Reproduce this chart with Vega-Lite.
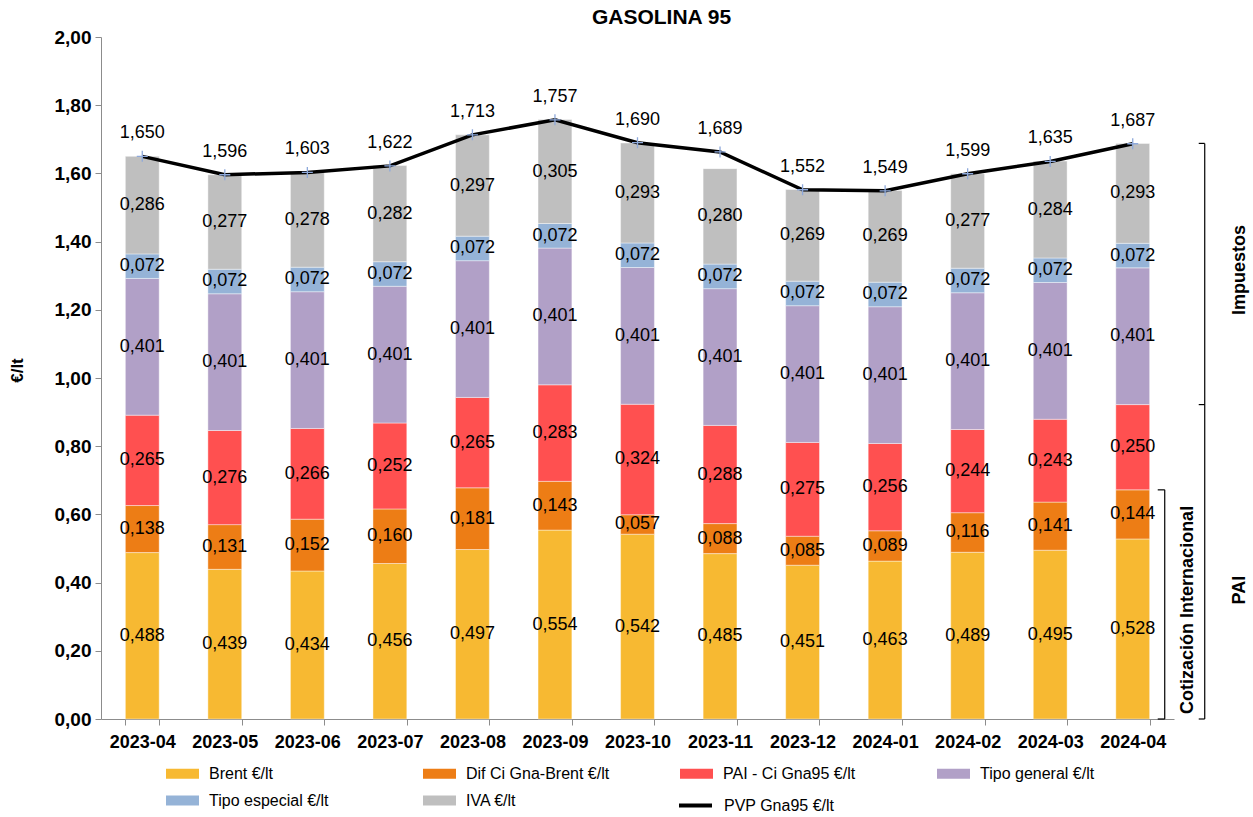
{
  "$schema": "https://vega.github.io/schema/vega-lite/v6.json",
  "autosize": {"type": "none"},
  "padding": {"left": 101, "top": 37, "right": 79, "bottom": 98},
  "width": 1073,
  "height": 682,
  "background": "white",
  "config": {
    "locale": {"number": {"decimal": ",", "thousands": ".", "grouping": [3], "currency": ["", " €"]}},
    "view": {"stroke": null},
    "font": "Liberation Sans",
    "text": {"font": "Liberation Sans", "fontSize": 18, "color": "black"}
  },
  "title": {"text": "GASOLINA 95", "font": "Liberation Sans", "fontSize": 21, "fontWeight": "bold", "color": "black", "anchor": "middle", "dx": 24, "offset": 0},
  "datasets": {
    "componentes": [
      {"mes": "2023-04", "serie": "Brent €/lt", "n": 1, "valor": 0.488},
      {"mes": "2023-05", "serie": "Brent €/lt", "n": 1, "valor": 0.439},
      {"mes": "2023-06", "serie": "Brent €/lt", "n": 1, "valor": 0.434},
      {"mes": "2023-07", "serie": "Brent €/lt", "n": 1, "valor": 0.456},
      {"mes": "2023-08", "serie": "Brent €/lt", "n": 1, "valor": 0.497},
      {"mes": "2023-09", "serie": "Brent €/lt", "n": 1, "valor": 0.554},
      {"mes": "2023-10", "serie": "Brent €/lt", "n": 1, "valor": 0.542},
      {"mes": "2023-11", "serie": "Brent €/lt", "n": 1, "valor": 0.485},
      {"mes": "2023-12", "serie": "Brent €/lt", "n": 1, "valor": 0.451},
      {"mes": "2024-01", "serie": "Brent €/lt", "n": 1, "valor": 0.463},
      {"mes": "2024-02", "serie": "Brent €/lt", "n": 1, "valor": 0.489},
      {"mes": "2024-03", "serie": "Brent €/lt", "n": 1, "valor": 0.495},
      {"mes": "2024-04", "serie": "Brent €/lt", "n": 1, "valor": 0.528},
      {"mes": "2023-04", "serie": "Dif Ci Gna-Brent €/lt", "n": 2, "valor": 0.138},
      {"mes": "2023-05", "serie": "Dif Ci Gna-Brent €/lt", "n": 2, "valor": 0.131},
      {"mes": "2023-06", "serie": "Dif Ci Gna-Brent €/lt", "n": 2, "valor": 0.152},
      {"mes": "2023-07", "serie": "Dif Ci Gna-Brent €/lt", "n": 2, "valor": 0.160},
      {"mes": "2023-08", "serie": "Dif Ci Gna-Brent €/lt", "n": 2, "valor": 0.181},
      {"mes": "2023-09", "serie": "Dif Ci Gna-Brent €/lt", "n": 2, "valor": 0.143},
      {"mes": "2023-10", "serie": "Dif Ci Gna-Brent €/lt", "n": 2, "valor": 0.057},
      {"mes": "2023-11", "serie": "Dif Ci Gna-Brent €/lt", "n": 2, "valor": 0.088},
      {"mes": "2023-12", "serie": "Dif Ci Gna-Brent €/lt", "n": 2, "valor": 0.085},
      {"mes": "2024-01", "serie": "Dif Ci Gna-Brent €/lt", "n": 2, "valor": 0.089},
      {"mes": "2024-02", "serie": "Dif Ci Gna-Brent €/lt", "n": 2, "valor": 0.116},
      {"mes": "2024-03", "serie": "Dif Ci Gna-Brent €/lt", "n": 2, "valor": 0.141},
      {"mes": "2024-04", "serie": "Dif Ci Gna-Brent €/lt", "n": 2, "valor": 0.144},
      {"mes": "2023-04", "serie": "PAI - Ci Gna95 €/lt", "n": 3, "valor": 0.265},
      {"mes": "2023-05", "serie": "PAI - Ci Gna95 €/lt", "n": 3, "valor": 0.276},
      {"mes": "2023-06", "serie": "PAI - Ci Gna95 €/lt", "n": 3, "valor": 0.266},
      {"mes": "2023-07", "serie": "PAI - Ci Gna95 €/lt", "n": 3, "valor": 0.252},
      {"mes": "2023-08", "serie": "PAI - Ci Gna95 €/lt", "n": 3, "valor": 0.265},
      {"mes": "2023-09", "serie": "PAI - Ci Gna95 €/lt", "n": 3, "valor": 0.283},
      {"mes": "2023-10", "serie": "PAI - Ci Gna95 €/lt", "n": 3, "valor": 0.324},
      {"mes": "2023-11", "serie": "PAI - Ci Gna95 €/lt", "n": 3, "valor": 0.288},
      {"mes": "2023-12", "serie": "PAI - Ci Gna95 €/lt", "n": 3, "valor": 0.275},
      {"mes": "2024-01", "serie": "PAI - Ci Gna95 €/lt", "n": 3, "valor": 0.256},
      {"mes": "2024-02", "serie": "PAI - Ci Gna95 €/lt", "n": 3, "valor": 0.244},
      {"mes": "2024-03", "serie": "PAI - Ci Gna95 €/lt", "n": 3, "valor": 0.243},
      {"mes": "2024-04", "serie": "PAI - Ci Gna95 €/lt", "n": 3, "valor": 0.250},
      {"mes": "2023-04", "serie": "Tipo general €/lt", "n": 4, "valor": 0.401},
      {"mes": "2023-05", "serie": "Tipo general €/lt", "n": 4, "valor": 0.401},
      {"mes": "2023-06", "serie": "Tipo general €/lt", "n": 4, "valor": 0.401},
      {"mes": "2023-07", "serie": "Tipo general €/lt", "n": 4, "valor": 0.401},
      {"mes": "2023-08", "serie": "Tipo general €/lt", "n": 4, "valor": 0.401},
      {"mes": "2023-09", "serie": "Tipo general €/lt", "n": 4, "valor": 0.401},
      {"mes": "2023-10", "serie": "Tipo general €/lt", "n": 4, "valor": 0.401},
      {"mes": "2023-11", "serie": "Tipo general €/lt", "n": 4, "valor": 0.401},
      {"mes": "2023-12", "serie": "Tipo general €/lt", "n": 4, "valor": 0.401},
      {"mes": "2024-01", "serie": "Tipo general €/lt", "n": 4, "valor": 0.401},
      {"mes": "2024-02", "serie": "Tipo general €/lt", "n": 4, "valor": 0.401},
      {"mes": "2024-03", "serie": "Tipo general €/lt", "n": 4, "valor": 0.401},
      {"mes": "2024-04", "serie": "Tipo general €/lt", "n": 4, "valor": 0.401},
      {"mes": "2023-04", "serie": "Tipo especial €/lt", "n": 5, "valor": 0.072},
      {"mes": "2023-05", "serie": "Tipo especial €/lt", "n": 5, "valor": 0.072},
      {"mes": "2023-06", "serie": "Tipo especial €/lt", "n": 5, "valor": 0.072},
      {"mes": "2023-07", "serie": "Tipo especial €/lt", "n": 5, "valor": 0.072},
      {"mes": "2023-08", "serie": "Tipo especial €/lt", "n": 5, "valor": 0.072},
      {"mes": "2023-09", "serie": "Tipo especial €/lt", "n": 5, "valor": 0.072},
      {"mes": "2023-10", "serie": "Tipo especial €/lt", "n": 5, "valor": 0.072},
      {"mes": "2023-11", "serie": "Tipo especial €/lt", "n": 5, "valor": 0.072},
      {"mes": "2023-12", "serie": "Tipo especial €/lt", "n": 5, "valor": 0.072},
      {"mes": "2024-01", "serie": "Tipo especial €/lt", "n": 5, "valor": 0.072},
      {"mes": "2024-02", "serie": "Tipo especial €/lt", "n": 5, "valor": 0.072},
      {"mes": "2024-03", "serie": "Tipo especial €/lt", "n": 5, "valor": 0.072},
      {"mes": "2024-04", "serie": "Tipo especial €/lt", "n": 5, "valor": 0.072},
      {"mes": "2023-04", "serie": "IVA €/lt", "n": 6, "valor": 0.286},
      {"mes": "2023-05", "serie": "IVA €/lt", "n": 6, "valor": 0.277},
      {"mes": "2023-06", "serie": "IVA €/lt", "n": 6, "valor": 0.278},
      {"mes": "2023-07", "serie": "IVA €/lt", "n": 6, "valor": 0.282},
      {"mes": "2023-08", "serie": "IVA €/lt", "n": 6, "valor": 0.297},
      {"mes": "2023-09", "serie": "IVA €/lt", "n": 6, "valor": 0.305},
      {"mes": "2023-10", "serie": "IVA €/lt", "n": 6, "valor": 0.293},
      {"mes": "2023-11", "serie": "IVA €/lt", "n": 6, "valor": 0.280},
      {"mes": "2023-12", "serie": "IVA €/lt", "n": 6, "valor": 0.269},
      {"mes": "2024-01", "serie": "IVA €/lt", "n": 6, "valor": 0.269},
      {"mes": "2024-02", "serie": "IVA €/lt", "n": 6, "valor": 0.277},
      {"mes": "2024-03", "serie": "IVA €/lt", "n": 6, "valor": 0.284},
      {"mes": "2024-04", "serie": "IVA €/lt", "n": 6, "valor": 0.293}
    ],
    "pvp": [
      {"mes": "2023-04", "pvp": 1.650, "etiqueta": 1.650},
      {"mes": "2023-05", "pvp": 1.596, "etiqueta": 1.596},
      {"mes": "2023-06", "pvp": 1.603, "etiqueta": 1.603},
      {"mes": "2023-07", "pvp": 1.622, "etiqueta": 1.622},
      {"mes": "2023-08", "pvp": 1.713, "etiqueta": 1.713},
      {"mes": "2023-09", "pvp": 1.757, "etiqueta": 1.757},
      {"mes": "2023-10", "pvp": 1.690, "etiqueta": 1.690},
      {"mes": "2023-11", "pvp": 1.663, "etiqueta": 1.689},
      {"mes": "2023-12", "pvp": 1.552, "etiqueta": 1.552},
      {"mes": "2024-01", "pvp": 1.549, "etiqueta": 1.549},
      {"mes": "2024-02", "pvp": 1.599, "etiqueta": 1.599},
      {"mes": "2024-03", "pvp": 1.635, "etiqueta": 1.635},
      {"mes": "2024-04", "pvp": 1.687, "etiqueta": 1.687}
    ]
  },
  "layer": [
    {
      "data": {"name": "componentes"},
      "mark": {"type": "bar", "stroke": "white", "strokeWidth": 0.6, "strokeOpacity": 0.7},
      "encoding": {
        "x": {
          "field": "mes", "type": "nominal", "sort": null,
          "scale": {"paddingInner": 0.59, "paddingOuter": 0.295},
          "axis": {"title": null, "labelAngle": 0, "labelFont": "Liberation Sans", "labelFontWeight": "bold", "labelFontSize": 18, "labelColor": "black", "tickBand": "extent", "tickSize": 6, "domainColor": "#8c8c8c", "tickColor": "#8c8c8c", "labelPadding": 8, "grid": false}
        },
        "y": {
          "field": "valor", "type": "quantitative", "stack": "zero",
          "scale": {"domain": [0, 2], "nice": false, "zero": true},
          "axis": {"values": [0, 0.2, 0.4, 0.6, 0.8, 1.0, 1.2, 1.4, 1.6, 1.8, 2.0], "format": ".2f", "grid": false, "domainColor": "#8c8c8c", "tickColor": "#8c8c8c", "tickSize": 6, "labelFont": "Liberation Sans", "labelFontWeight": "bold", "labelFontSize": 19, "labelColor": "black", "labelPadding": 4, "title": "€/lt", "titleFont": "Liberation Sans", "titleFontSize": 17, "titleFontWeight": "bold", "titleColor": "black", "titleX": -84, "titleY": 333, "titleBaseline": "middle", "titleAlign": "center", "titleAngle": 270}
        },
        "order": {"field": "n", "type": "quantitative", "sort": "ascending"},
        "color": {
          "field": "serie", "type": "nominal",
          "scale": {
            "domain": ["Brent €/lt", "Dif Ci Gna-Brent €/lt", "PAI - Ci Gna95 €/lt", "Tipo general €/lt", "Tipo especial €/lt", "IVA €/lt"],
            "range": ["#F7B932", "#ED7D15", "#FF5050", "#B1A0C7", "#95B3D7", "#BFBFBF"]
          },
          "legend": {
            "title": null, "orient": "none", "legendX": 65, "legendY": 720, "direction": "horizontal", "columns": 4, "gridAlign": "all",
            "columnPadding": 70, "rowPadding": 2, "padding": 0,
            "symbolType": "M-1,-0.3H1V0.3H-1Z", "symbolSize": 1089, "symbolStrokeWidth": 0, "symbolOpacity": 1,
            "labelFont": "Liberation Sans", "labelFontSize": 16, "labelColor": "black", "labelOffset": 10, "labelLimit": 300
          }
        }
      }
    },
    {
      "data": {"name": "componentes"},
      "transform": [
        {"stack": "valor", "groupby": ["mes"], "sort": [{"field": "n", "order": "ascending"}], "as": ["v0", "v1"]},
        {"fold": ["v0", "v1"], "as": ["extremo", "pos"]},
        {"aggregate": [{"op": "mean", "field": "pos", "as": "medio"}], "groupby": ["mes", "serie", "valor"]}
      ],
      "mark": {"type": "text", "baseline": "middle", "align": "center", "fontSize": 18},
      "encoding": {
        "x": {"field": "mes", "type": "nominal", "sort": null},
        "y": {"field": "medio", "type": "quantitative"},
        "text": {"field": "valor", "type": "quantitative", "format": ".3f"}
      }
    },
    {
      "data": {"name": "pvp"},
      "mark": {"type": "line", "strokeWidth": 3.5},
      "encoding": {
        "x": {"field": "mes", "type": "nominal", "sort": null},
        "y": {"field": "pvp", "type": "quantitative"},
        "stroke": {
          "datum": "PVP Gna95 €/lt", "type": "nominal",
          "scale": {"range": ["#000000"]},
          "legend": {
            "title": null, "orient": "none", "legendX": 576, "legendY": 750, "padding": 0,
            "symbolType": "stroke", "symbolSize": 1089, "symbolStrokeWidth": 4, "symbolOpacity": 1,
            "labelFont": "Liberation Sans", "labelFontSize": 16, "labelColor": "black", "labelOffset": 10, "labelLimit": 300
          }
        }
      }
    },
    {
      "data": {"name": "pvp"},
      "mark": {"type": "point", "shape": "M-1,0H1M0,-1V1", "filled": false, "stroke": "#8EA9DB", "strokeWidth": 1.3, "size": 121, "opacity": 1},
      "encoding": {
        "x": {"field": "mes", "type": "nominal", "sort": null},
        "y": {"field": "pvp", "type": "quantitative"}
      }
    },
    {
      "data": {"name": "pvp"},
      "mark": {"type": "text", "baseline": "middle", "align": "center", "fontSize": 18, "dy": -23},
      "encoding": {
        "x": {"field": "mes", "type": "nominal", "sort": null},
        "y": {"field": "pvp", "type": "quantitative"},
        "text": {"field": "etiqueta", "type": "quantitative", "format": ".3f"}
      }
    },
    {
      "data": {"values": [{"desde": 0, "hasta": 1.688}]},
      "mark": {"type": "rule", "color": "black", "strokeWidth": 1.2, "xOffset": 72},
      "encoding": {
        "x": {"datum": "2024-04", "type": "nominal"},
        "y": {"field": "desde", "type": "quantitative"},
        "y2": {"field": "hasta"}
      }
    },
    {
      "data": {"values": [{"v": 1.688}, {"v": 0.922}, {"v": 0}]},
      "mark": {"type": "rule", "color": "black", "strokeWidth": 1.2, "xOffset": 66, "x2Offset": 72},
      "encoding": {
        "x": {"datum": "2024-04", "type": "nominal"},
        "x2": {"datum": "2024-04"},
        "y": {"field": "v", "type": "quantitative"}
      }
    },
    {
      "data": {"values": [{"desde": 0, "hasta": 0.672}]},
      "mark": {"type": "rule", "color": "black", "strokeWidth": 1.2, "xOffset": 32},
      "encoding": {
        "x": {"datum": "2024-04", "type": "nominal"},
        "y": {"field": "desde", "type": "quantitative"},
        "y2": {"field": "hasta"}
      }
    },
    {
      "data": {"values": [{"v": 0.672}, {"v": 0}]},
      "mark": {"type": "rule", "color": "black", "strokeWidth": 1.2, "xOffset": 25, "x2Offset": 32},
      "encoding": {
        "x": {"datum": "2024-04", "type": "nominal"},
        "x2": {"datum": "2024-04"},
        "y": {"field": "v", "type": "quantitative"}
      }
    },
    {
      "data": {"values": [{"rotulo": "Impuestos", "pos": 1.317}, {"rotulo": "PAI", "pos": 0.378}]},
      "mark": {"type": "text", "angle": 270, "fontWeight": "bold", "fontSize": 18, "baseline": "middle", "align": "center", "xOffset": 107},
      "encoding": {
        "x": {"datum": "2024-04", "type": "nominal"},
        "y": {"field": "pos", "type": "quantitative"},
        "text": {"field": "rotulo"}
      }
    },
    {
      "data": {"values": [{"rotulo": "Cotización Internacional", "pos": 0.32}]},
      "mark": {"type": "text", "angle": 270, "fontWeight": "bold", "fontSize": 18, "baseline": "middle", "align": "center", "xOffset": 55},
      "encoding": {
        "x": {"datum": "2024-04", "type": "nominal"},
        "y": {"field": "pos", "type": "quantitative"},
        "text": {"field": "rotulo"}
      }
    }
  ]
}
